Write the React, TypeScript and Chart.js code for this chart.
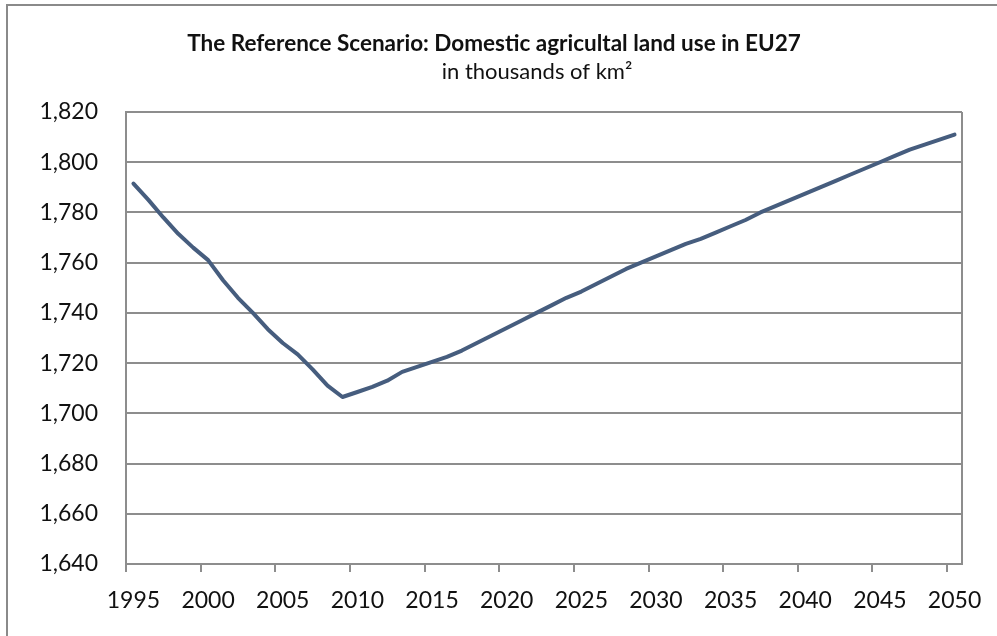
import React, { useEffect, useRef } from "react";
import { Chart, registerables } from "chart.js";

Chart.register(...registerables);

const titleText = "The Reference Scenario: Domestic agricultal land use in EU27";
const subtitleText = "in thousands of km\u00B2";

const years = [
  "1995", "1996", "1997", "1998", "1999", "2000", "2001", "2002", "2003", "2004",
  "2005", "2006", "2007", "2008", "2009", "2010", "2011", "2012", "2013", "2014",
  "2015", "2016", "2017", "2018", "2019", "2020", "2021", "2022", "2023", "2024",
  "2025", "2026", "2027", "2028", "2029", "2030", "2031", "2032", "2033", "2034",
  "2035", "2036", "2037", "2038", "2039", "2040", "2041", "2042", "2043", "2044",
  "2045", "2046", "2047", "2048", "2049", "2050",
];

const landUse = [
  1791.5, 1785, 1778, 1771.5, 1766, 1761, 1753, 1746, 1740, 1733.5,
  1728, 1723.5, 1717.5, 1711, 1706.5, 1708.5, 1710.5, 1713, 1716.5, 1718.5,
  1720.5, 1722.5, 1725, 1728, 1731, 1734, 1737, 1740, 1743, 1746,
  1748.5, 1751.5, 1754.5, 1757.5, 1760, 1762.5, 1765, 1767.5, 1769.5, 1772,
  1774.5, 1777, 1780, 1782.5, 1785, 1787.5, 1790, 1792.5, 1795, 1797.5,
  1800, 1802.5, 1805, 1807, 1809, 1811,
];

const yMin = 1640;
const yMax = 1820;
const yStep = 20;
const xLabelEvery = 5;

const FONT = "Lato, 'Open Sans', sans-serif";
const GRID = "#8d8d8d";
const LINE = "#465d7e";
const TEXT = "#111111";

const framePlugin = {
  id: "frameAndSubtitle",
  afterDraw(chart: any) {
    const { ctx, chartArea } = chart;
    ctx.save();
    ctx.strokeStyle = GRID;
    ctx.lineWidth = 2;
    ctx.beginPath();
    ctx.moveTo(chartArea.right, chartArea.top);
    ctx.lineTo(chartArea.right, chartArea.bottom);
    ctx.stroke();
    ctx.font = `22px ${FONT}`;
    ctx.fillStyle = TEXT;
    ctx.textAlign = "center";
    ctx.textBaseline = "middle";
    ctx.fillText(subtitleText, 537, 72);
    ctx.restore();
  },
};

export default function App() {
  const canvasRef = useRef<HTMLCanvasElement | null>(null);

  useEffect(() => {
    if (!canvasRef.current) return;
    const chart = new Chart(canvasRef.current, {
      type: "line",
      data: {
        labels: years,
        datasets: [
          {
            label: "Domestic agricultural land use",
            data: landUse,
            borderColor: LINE,
            backgroundColor: LINE,
            borderWidth: 4,
            pointRadius: 0,
            tension: 0,
            borderCapStyle: "round",
            borderJoinStyle: "round",
          },
        ],
      },
      options: {
        animation: false,
        responsive: true,
        maintainAspectRatio: false,
        layout: { padding: { left: 26, right: 35, top: 0, bottom: 0 } },
        plugins: {
          legend: { display: false },
          tooltip: { enabled: false },
          title: {
            display: true,
            text: titleText,
            color: TEXT,
            font: { family: FONT, size: 22.5, weight: "bold" },
            padding: { top: 30, bottom: 55 },
          },
        },
        scales: {
          x: {
            type: "category",
            offset: true,
            afterFit: (scale: any) => {
              scale.paddingLeft = 0;
              scale.paddingRight = 0;
              scale.height = 72;
            },
            grid: {
              offset: true,
              drawOnChartArea: false,
              drawTicks: true,
              tickLength: 8,
              lineWidth: 2,
              color: (ctx: any) => (ctx.index % xLabelEvery === 0 ? GRID : "rgba(0,0,0,0)"),
            },
            border: { display: true, color: GRID, width: 2 },
            ticks: {
              autoSkip: false,
              maxRotation: 0,
              minRotation: 0,
              padding: 15,
              color: TEXT,
              font: { family: FONT, size: 23 },
              callback: (_v: any, index: number) => (index % xLabelEvery === 0 ? years[index] : ""),
            },
          },
          y: {
            min: yMin,
            max: yMax,
            afterFit: (scale: any) => {
              scale.paddingTop = 0;
              scale.paddingBottom = 0;
              scale.width = 100;
            },
            grid: { color: GRID, lineWidth: 2, drawTicks: false },
            border: { display: true, color: GRID, width: 2 },
            ticks: {
              stepSize: yStep,
              padding: 28,
              color: TEXT,
              font: { family: FONT, size: 23 },
              callback: (v: any) => Number(v).toLocaleString("en-US"),
            },
          },
        },
      },
      plugins: [framePlugin],
    });
    return () => chart.destroy();
  }, []);

  return (
    <>
      <div style={{ position: "fixed", left: 0, top: 0, width: 997, height: 636, background: "#fff" }}>
        <canvas ref={canvasRef} />
      </div>
      <div
        style={{
          position: "fixed",
          left: 6,
          top: 4,
          width: 991,
          height: 632,
          borderTop: "2px solid #8a8a8a",
          borderLeft: "2px solid #8a8a8a",
          boxSizing: "border-box",
          pointerEvents: "none",
        }}
      />
    </>
  );
}
